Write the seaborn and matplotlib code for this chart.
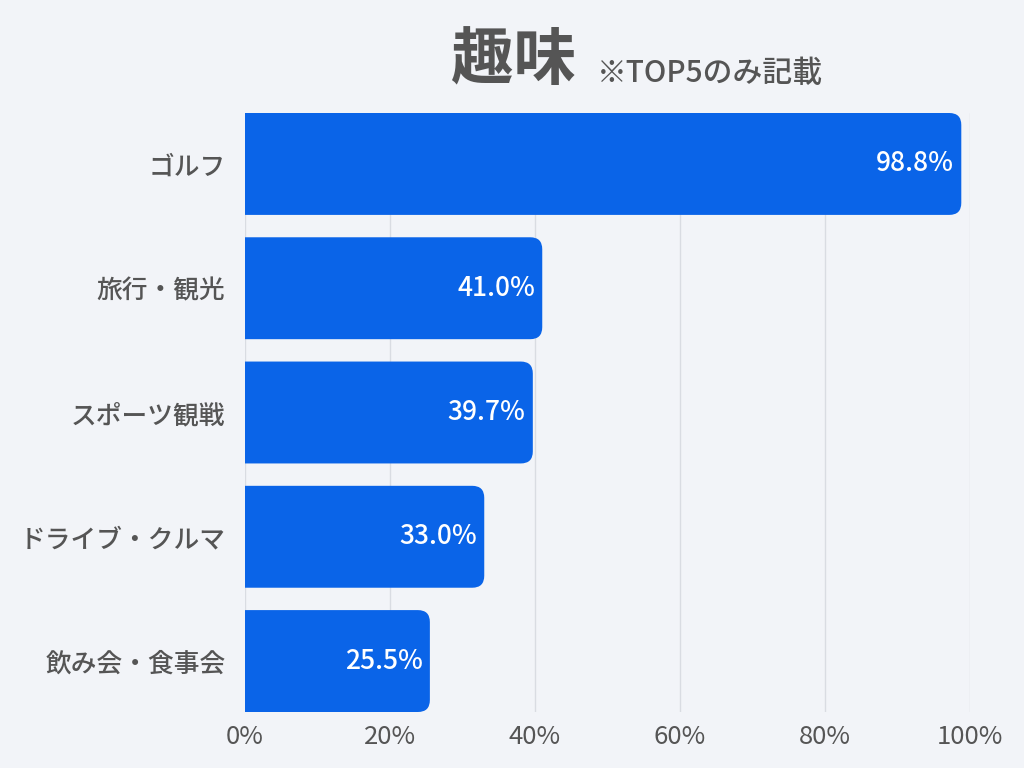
import matplotlib.pyplot as plt
import pandas as pd
import seaborn as sns
from matplotlib.patches import FancyBboxPatch
from matplotlib.ticker import FuncFormatter

categories = ["ゴルフ", "旅行・観光", "スポーツ観戦", "ドライブ・クルマ", "飲み会・食事会"]
values = [98.8, 41.0, 39.7, 33.0, 25.5]
x_ticks = [0, 20, 40, 60, 80, 100]

BG = "#f2f4f8"
BAR = "#0a64e8"
TEXT = "#555555"

sns.set_theme(style="white")
plt.rcParams["font.family"] = ["Noto Sans CJK JP", "DejaVu Sans"]

df = pd.DataFrame({"category": categories, "value": values})

fig = plt.figure(figsize=(10.24, 7.68), dpi=100, facecolor=BG)
ax = fig.add_axes([245 / 1024, 1 - 712 / 768, 725 / 1024, 599 / 768])
ax.set_facecolor(BG)

sns.barplot(data=df, x="value", y="category", color=BAR, width=0.82, ax=ax, zorder=3)

ax.set_xlim(0, 100)
ax.set_ylim(len(categories) - 1 + 0.41, -0.41)

# swap the square bars for ones with rounded right corners
radius_px = 12
x_per_px = 100 / 725
y_per_px = (len(categories) - 1 + 0.82) / 599
for patch in list(ax.patches):
    x0, y0 = patch.get_x(), patch.get_y()
    w, h = patch.get_width(), patch.get_height()
    patch.set_visible(False)
    r = radius_px * x_per_px
    rounded = FancyBboxPatch(
        (x0 - 3 * r, y0), w + 3 * r, h,
        boxstyle=f"round,pad=0,rounding_size={r}",
        mutation_aspect=y_per_px / x_per_px,
        facecolor=BAR, edgecolor="none", zorder=3, clip_on=True,
    )
    ax.add_patch(rounded)

for i, v in enumerate(values):
    ax.text(v - 1.0, i, f"{v:.1f}%", ha="right", va="center", color="white",
            fontsize=19, fontweight="medium", zorder=4)

ax.set_xticks(x_ticks)
ax.xaxis.set_major_formatter(FuncFormatter(lambda v, _: f"{v:.0f}%"))
ax.grid(axis="x", color="#d9dce2", linewidth=1.0, zorder=0)
ax.set_axisbelow(True)
ax.tick_params(axis="x", length=0, pad=9, labelsize=18.5, labelcolor=TEXT)
ax.tick_params(axis="y", length=0, pad=14, labelsize=18.5, labelcolor=TEXT)
for lbl in ax.get_yticklabels():
    lbl.set_fontweight("medium")
ax.set_xlabel("")
ax.set_ylabel("")
for side in ["top", "right", "bottom", "left"]:
    ax.spines[side].set_visible(False)

fig.text(513, 768 - 79, "趣味", transform=None, ha="center", va="baseline",
         fontsize=45, fontweight="bold", color=TEXT)
fig.text(597, 768 - 82, "※TOP5のみ記載", transform=None, ha="left", va="baseline",
         fontsize=21.5, fontweight="medium", color=TEXT)

fig.savefig("out.png", dpi=100, facecolor=BG)
